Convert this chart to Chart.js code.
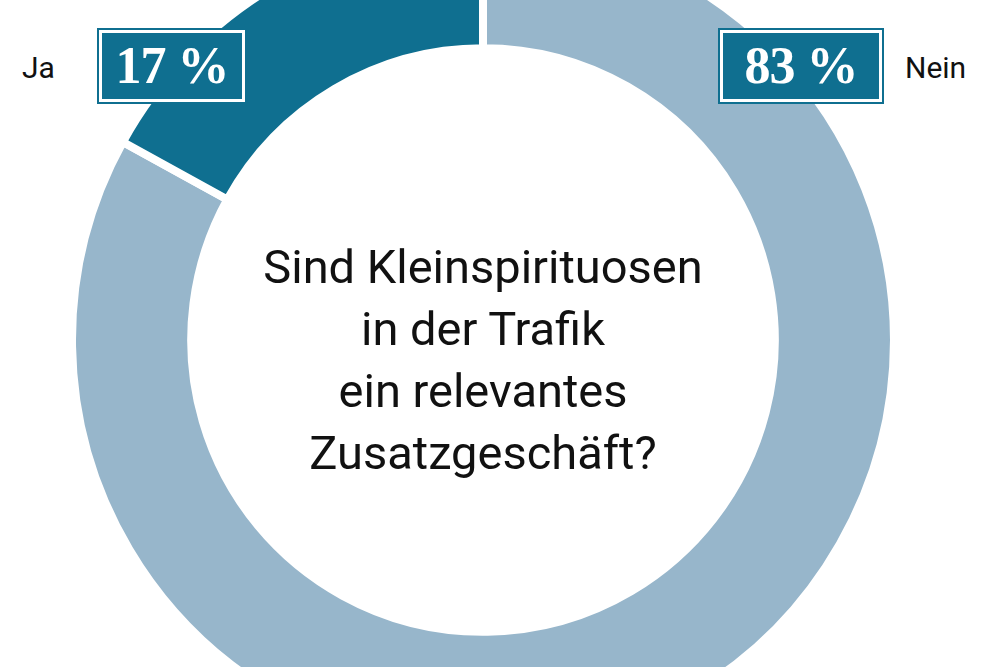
<!DOCTYPE html>
<html><head><meta charset="utf-8">
<script src="https://cdn.jsdelivr.net/npm/chart.js@4/dist/chart.umd.min.js"></script>
<style>
body{margin:0;width:1000px;height:667px;overflow:hidden;background:#fff;position:relative;font-family:Roboto,sans-serif}
#wrap{position:absolute;left:68px;top:-75px;width:830px;height:830px}
.box{position:absolute;top:30px;height:66px;background:#0f6f90;border:3px solid #fff;outline:2px solid #0f6f90;color:#fff;font:bold 52px "Liberation Serif",serif;line-height:66px;text-align:center;letter-spacing:-1px}
.lbl{position:absolute;top:50px;font-size:30px;color:#111}
#q{position:absolute;left:133px;top:236px;width:700px;text-align:center;font-size:47px;line-height:62px;color:#111}
</style></head><body>
<div id="wrap"><canvas id="c" width="830" height="830"></canvas></div>
<div class="lbl" style="left:22px">Ja</div>
<div class="box" style="left:99px;width:140px">17 %</div>
<div class="box" style="left:720px;width:156px">83 %</div>
<div class="lbl" style="left:905px">Nein</div>
<div id="q">Sind Kleinspirituosen<br>in der Trafik<br>ein relevantes<br>Zusatzgeschäft?</div>
<script>
// Anteile aus der Grafik
const categories = ["Nein", "Ja"];
const values = [83, 17];
const colors = ["#97b6cb", "#0f6f90"];

new Chart(document.getElementById("c").getContext("2d"), {
  type: "doughnut",
  data: {
    labels: categories,
    datasets: [{ data: values, backgroundColor: colors, borderColor: "#fff", borderWidth: 8 }]
  },
  options: {
    responsive: false,
    animation: false,
    cutout: "71%",
    plugins: { legend: { display: false }, tooltip: { enabled: false } }
  }
});
</script>
</body></html>
